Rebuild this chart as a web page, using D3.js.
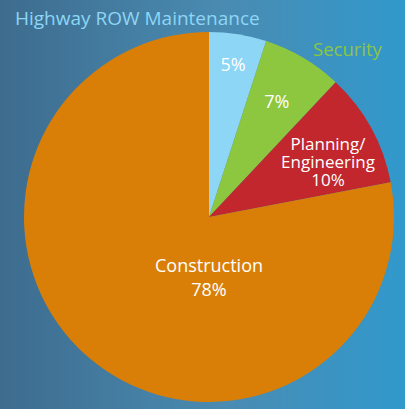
<!DOCTYPE html>
<html><head><meta charset="utf-8">
<script src="https://cdn.jsdelivr.net/npm/d3@7"></script>
<style>html,body{margin:0;padding:0;overflow:hidden;}</style>
</head><body>
<script>
const categories = ["Highway ROW Maintenance", "Security", "Planning/Engineering", "Construction"];
const values = [5, 7, 10, 78];
const colors = ["#8dd6f5", "#8dc63f", "#c1272d", "#d97f07"];

const W = 405, H = 409;
const svg = d3.select("body").append("svg").attr("width", W).attr("height", H);
const defs = svg.append("defs");
const grad = defs.append("linearGradient").attr("id", "bg").attr("x1", "0").attr("x2", "1").attr("y1", "0").attr("y2", "0");
grad.append("stop").attr("offset", "0").attr("stop-color", "#3d6c8e");
grad.append("stop").attr("offset", "0.55").attr("stop-color", "#4a8bb2");
grad.append("stop").attr("offset", "1").attr("stop-color", "#3199cc");
svg.append("rect").attr("width", W).attr("height", H).attr("fill", "url(#bg)");

const cx = 209, cy = 217, r = 185;
const font = "'Open Sans', sans-serif";
const pie = d3.pie().sort(null).value(d => d);
const arcs = pie(values);
const arc = d3.arc().innerRadius(0).outerRadius(r);
const g = svg.append("g").attr("transform", `translate(${cx},${cy})`);
g.selectAll("path").data(arcs).join("path")
  .attr("d", arc).attr("fill", (d, i) => colors[i]);

// inside labels: along slice mid-angle (polar), or a fixed offset from centre
const labelSpec = [
  {rr: 0.83, lines: [values[0] + "%"], size: 18, lh: 0},
  {rr: 0.72, lines: [values[1] + "%"], size: 18, lh: 0},
  {pos: [119, -55], lines: ["Planning/", "Engineering", values[2] + "%"], size: 17, lh: 18},
  {pos: [0, 61], lines: ["Construction", values[3] + "%"], size: 18, lh: 24}
];
arcs.forEach((a, i) => {
  const ang = (a.startAngle + a.endAngle) / 2;
  const lp = labelSpec[i];
  let x, y;
  if (lp.pos) { x = lp.pos[0]; y = lp.pos[1]; }
  else { x = Math.sin(ang) * r * lp.rr; y = -Math.cos(ang) * r * lp.rr; }
  const n = lp.lines.length;
  const t = g.append("text").attr("text-anchor", "middle")
    .attr("font-family", font).attr("font-size", lp.size).attr("fill", "#ffffff");
  lp.lines.forEach((s, k) => {
    t.append("tspan").attr("x", x).attr("y", y + (k - (n - 1) / 2) * lp.lh + 6).text(s);
  });
});

// outside labels
svg.append("text").attr("x", 15).attr("y", 25).attr("font-family", font).attr("font-size", 19)
  .attr("fill", colors[0]).text(categories[0]);
svg.append("text").attr("x", 313).attr("y", 56).attr("font-family", font).attr("font-size", 18.5)
  .attr("fill", colors[1]).text(categories[1]);
</script>
</body></html>
